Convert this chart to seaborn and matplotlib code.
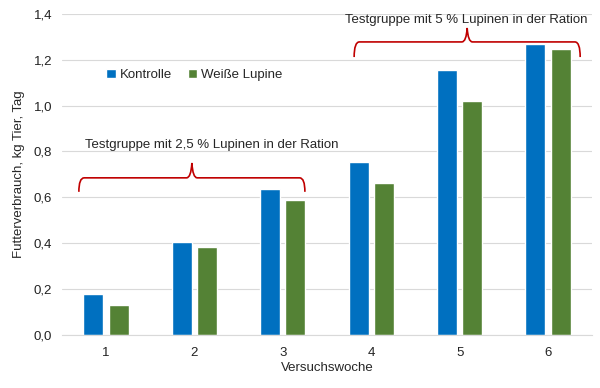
import pandas as pd
import matplotlib.pyplot as plt
import seaborn as sns
from matplotlib.path import Path
from matplotlib.patches import PathPatch
from matplotlib.ticker import FuncFormatter

# Daten
wochen = ['1', '2', '3', '4', '5', '6']
kontrolle = [0.18, 0.404, 0.637, 0.753, 1.156, 1.268]
lupine = [0.13, 0.384, 0.59, 0.663, 1.022, 1.247]
gruppen = ['Kontrolle', 'Weiße Lupine']
farben = ['#0070C0', '#548235']

df = pd.DataFrame({
    'woche': wochen * 2,
    'wert': kontrolle + lupine,
    'gruppe': [gruppen[0]] * 6 + [gruppen[1]] * 6,
})

sns.set_style('white')
plt.rcParams['font.family'] = ['Liberation Sans', 'DejaVu Sans']
fs = 9.5

fig = plt.figure(figsize=(6, 3.88), dpi=100)
ax = fig.add_axes([0.103, 0.137, 0.884, 0.827])

sns.barplot(data=df, x='woche', y='wert', hue='gruppe', palette=farben,
            width=0.57, gap=0.2, ax=ax, saturation=1, legend=True)

ax.set_ylim(0, 1.4)
ax.set_xlim(-0.5, 5.5)
ax.set_yticks([0, 0.2, 0.4, 0.6, 0.8, 1.0, 1.2, 1.4])
ax.yaxis.set_major_formatter(FuncFormatter(lambda v, p: f'{v:.1f}'.replace('.', ',')))
ax.grid(axis='y', color='#D9D9D9', linewidth=0.8)
ax.set_axisbelow(True)
for s in ['top', 'right', 'left']:
    ax.spines[s].set_visible(False)
ax.spines['bottom'].set_color('#D9D9D9')
ax.tick_params(axis='both', length=0, labelsize=fs, colors='#222222')
ax.tick_params(axis='y', pad=7)
ax.tick_params(axis='x', pad=9)
ax.set_xlabel('Versuchswoche', fontsize=fs, labelpad=2)
ax.set_ylabel('Futterverbrauch, kg Tier, Tag', fontsize=fs, labelpad=6)

ax.legend(loc='center', bbox_to_anchor=(0.25, 0.81), ncol=2, frameon=False,
          fontsize=fs, handlelength=0.7, handleheight=0.7, handletextpad=0.3,
          columnspacing=1.2)


# geschweifte Klammern
def klammer(x0, x1, y, tief, spitze):
    xm = (x0 + x1) / 2
    r = 0.06
    pfad = Path(
        [(x0, tief), (x0, y), (x0 + r, y), (xm - r, y), (xm - 0.01, y), (xm, spitze),
         (xm + 0.01, y), (xm + r, y), (x1 - r, y), (x1, y), (x1, tief)],
        [Path.MOVETO, Path.CURVE3, Path.CURVE3, Path.LINETO, Path.CURVE3, Path.CURVE3,
         Path.CURVE3, Path.CURVE3, Path.LINETO, Path.CURVE3, Path.CURVE3])
    ax.add_patch(PathPatch(pfad, facecolor='none', edgecolor='#C00000', lw=1.2,
                           clip_on=False))


klammer(-0.307, 2.25, 0.685, 0.624, 0.75)
klammer(2.807, 5.364, 1.278, 1.212, 1.339)

ax.text(1.2, 0.83, 'Testgruppe mit 2,5 % Lupinen in der Ration', ha='center',
        va='center', fontsize=fs)
ax.text(4.08, 1.374, 'Testgruppe mit 5 % Lupinen in der Ration', ha='center',
        va='center', fontsize=fs)

fig.savefig('out.png', dpi=100)
